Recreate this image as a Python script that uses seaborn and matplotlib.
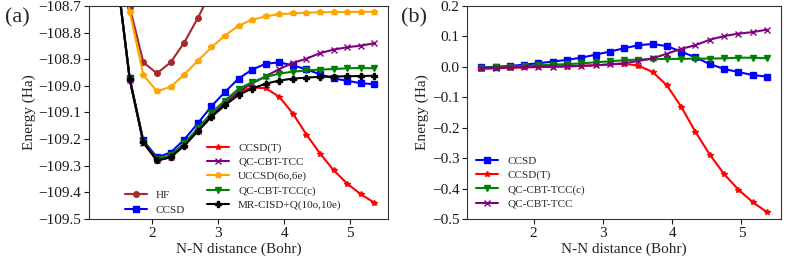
import matplotlib
matplotlib.use("Agg")
import matplotlib.pyplot as plt
import seaborn as sns

# ---------------- data ----------------
r_bohr = [1.246, 1.452, 1.658, 1.864, 2.070, 2.276, 2.482, 2.688, 2.894, 3.100,
          3.306, 3.512, 3.718, 3.924, 4.130, 4.336, 4.542, 4.748, 4.954, 5.160, 5.366]

# panel (a): total energies (Ha)
e_hf = [-106.90, -108.25, -108.705, -108.912, -108.953, -108.912, -108.838, -108.746,
        -108.645, -108.545, -108.46, -108.39, -108.33, -108.28, -108.24, -108.21,
        -108.19, -108.17, -108.16, -108.15, -108.14]
e_ccsd = [-107.302, -108.56, -108.972, -109.205, -109.268, -109.251, -109.202, -109.141,
          -109.077, -109.023, -108.973, -108.939, -108.917, -108.912, -108.923, -108.938,
          -108.957, -108.972, -108.981, -108.990, -108.994]
e_ccsd_t = [-107.307, -108.565, -108.978, -109.214, -109.281, -109.268, -109.224, -109.168,
            -109.112, -109.065, -109.024, -109.006, -109.009, -109.041, -109.104, -109.183,
            -109.254, -109.317, -109.367, -109.407, -109.439]
e_qccbt = [-107.304, -108.563, -108.977, -109.213, -109.280, -109.267, -109.223, -109.168,
           -109.112, -109.065, -109.022, -108.991, -108.964, -108.937, -108.914, -108.898,
           -108.877, -108.864, -108.855, -108.849, -108.840]
e_uccsd = [-107.50, -108.45, -108.722, -108.960, -109.020, -109.004, -108.958, -108.906,
           -108.856, -108.811, -108.774, -108.752, -108.739, -108.731, -108.728, -108.725,
           -108.724, -108.723, -108.723, -108.722, -108.722]
e_qccbt_c = [-107.303, -108.561, -108.974, -109.209, -109.275, -109.261, -109.216, -109.160,
             -109.102, -109.055, -109.012, -108.986, -108.967, -108.954, -108.947, -108.942,
             -108.939, -108.937, -108.934, -108.933, -108.934]
e_mrci = [-107.300, -108.560, -108.975, -109.212, -109.280, -109.268, -109.225, -109.171,
          -109.117, -109.073, -109.034, -109.010, -108.992, -108.980, -108.973, -108.969,
          -108.966, -108.965, -108.964, -108.963, -108.962]

# panel (b): energy differences relative to MR-CISD+Q (Ha)
d_ccsd = [-0.002, 0.000, 0.003, 0.007, 0.012, 0.017, 0.023, 0.030, 0.040, 0.050, 0.061,
          0.071, 0.075, 0.068, 0.050, 0.031, 0.009, -0.007, -0.017, -0.027, -0.032]
d_ccsd_t = [-0.007, -0.005, -0.003, -0.002, -0.001, 0.000, 0.001, 0.003, 0.005, 0.008, 0.010,
            0.004, -0.017, -0.061, -0.131, -0.214, -0.288, -0.352, -0.403, -0.444, -0.477]
d_qccbt_c = [-0.003, -0.001, 0.001, 0.003, 0.005, 0.007, 0.009, 0.011, 0.015, 0.018, 0.022,
             0.024, 0.025, 0.026, 0.026, 0.027, 0.027, 0.028, 0.030, 0.030, 0.028]
d_qccbt = [-0.004, -0.003, -0.002, -0.001, 0.000, 0.001, 0.002, 0.003, 0.005, 0.008, 0.012,
           0.019, 0.028, 0.043, 0.059, 0.071, 0.089, 0.101, 0.109, 0.114, 0.122]

yticks_a = [-109.5, -109.4, -109.3, -109.2, -109.1, -109.0, -108.9, -108.8, -108.7]
yticks_b = [-0.5, -0.4, -0.3, -0.2, -0.1, 0.0, 0.1, 0.2]
xticks = [2, 3, 4, 5]

# ---------------- style ----------------
sns.set_theme(style="ticks", rc={
    "axes.linewidth": 0.8,
    "axes.edgecolor": "0.2",
    "xtick.major.size": 3.5,
    "ytick.major.size": 3.5,
    "xtick.major.width": 0.8,
    "ytick.major.width": 0.8,
    "xtick.color": "0.1",
    "ytick.color": "0.1",
})
plt.rcParams["font.family"] = ["Liberation Serif", "DejaVu Serif"]
plt.rcParams["mathtext.fontset"] = "stix"

fig = plt.figure(figsize=(7.89, 2.58), dpi=100)
ax_a = fig.add_axes([0.1128, 0.151, 0.379, 0.826])
ax_b = fig.add_axes([0.592, 0.151, 0.398, 0.826])

LW = 1.5
MS = 4


def draw(ax, y, color, marker, label):
    sns.lineplot(x=r_bohr, y=y, ax=ax, color=color, marker=marker, label=label,
                 linewidth=LW, markersize=MS, mec=color, mfc=color, mew=1.0,
                 sort=False)


# panel (a)
draw(ax_a, e_hf, "brown", "o", "HF")
draw(ax_a, e_ccsd, "blue", "s", "CCSD")
draw(ax_a, e_ccsd_t, "red", "*", "CCSD(T)")
draw(ax_a, e_qccbt, "purple", "x", "QC-CBT-TCC")
draw(ax_a, e_uccsd, "orange", "p", "UCCSD(6o,6e)")
draw(ax_a, e_qccbt_c, "green", "v", "QC-CBT-TCC(c)")
draw(ax_a, e_mrci, "black", "P", "MR-CISD+Q(10o,10e)")

ax_a.set_ylim(-109.5, -108.7)
ax_a.set_yticks(yticks_a)
ax_a.set_xticks(xticks)
ax_a.set_xlabel("N-N distance (Bohr)", fontsize=11, labelpad=2)
ax_a.set_ylabel("Energy (Ha)", fontsize=11, labelpad=2)
ax_a.tick_params(labelsize=11, pad=2)

handles, labels = ax_a.get_legend_handles_labels()
ax_a.get_legend().remove()
leg1 = ax_a.legend(handles[:2], labels[:2], loc="lower left",
                   bbox_to_anchor=(0.105, 0.0), borderaxespad=0, frameon=False,
                   fontsize=8, labelspacing=0.4)
ax_a.add_artist(leg1)
ax_a.legend(handles[2:], labels[2:], loc="lower left",
            bbox_to_anchor=(0.38, 0.02), borderaxespad=0, frameon=False,
            fontsize=8, labelspacing=0.4)

# panel (b)
draw(ax_b, d_ccsd, "blue", "s", "CCSD")
draw(ax_b, d_ccsd_t, "red", "*", "CCSD(T)")
draw(ax_b, d_qccbt_c, "green", "v", "QC-CBT-TCC(c)")
draw(ax_b, d_qccbt, "purple", "x", "QC-CBT-TCC")

ax_b.set_ylim(-0.5, 0.2)
ax_b.set_yticks(yticks_b)
ax_b.set_xticks(xticks)
ax_b.set_xlabel("N-N distance (Bohr)", fontsize=11, labelpad=2)
ax_b.set_ylabel("Energy (Ha)", fontsize=11, labelpad=2)
ax_b.tick_params(labelsize=11, pad=2)
ax_b.legend(loc="lower left", bbox_to_anchor=(0.015, 0.027), borderaxespad=0,
            frameon=False, fontsize=8, labelspacing=0.4)

for ax in (ax_a, ax_b):
    for s in ax.spines.values():
        s.set_visible(True)

fig.text(0.006, 0.93, "(a)", fontsize=16, va="center", ha="left")
fig.text(0.508, 0.93, "(b)", fontsize=16, va="center", ha="left")

fig.savefig("out.png", dpi=100)
